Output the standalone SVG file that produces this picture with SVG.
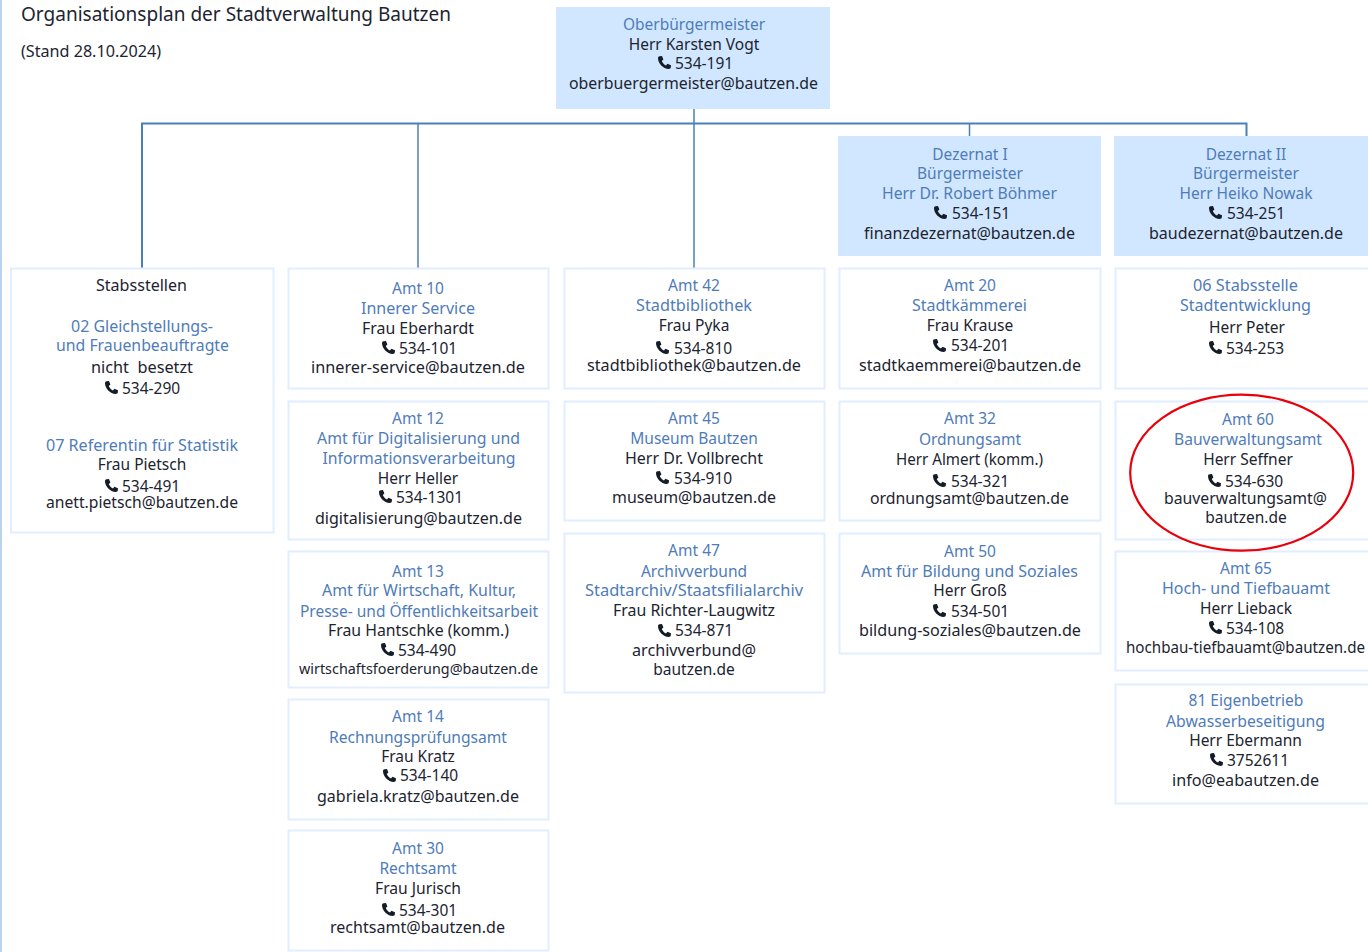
<svg xmlns="http://www.w3.org/2000/svg" width="1368" height="952" viewBox="0 0 1368 952">
<style>
text{font-family:"Noto Sans","Open Sans",sans-serif;font-size:15.5px;fill:#1c2430;text-anchor:middle}
.b{fill:#4f7cb8}
.n{fill:#fff;stroke:#e1eeff;stroke-width:2;transform:translate(.5px,.5px)}
.h{fill:#d1e7ff}
.c{fill:none;stroke:#4a80b8;stroke-width:2}
.t{fill:none;stroke:#4a80b8;stroke-width:1.5}
.p{text-anchor:start}
</style>
<defs>
<path id="ph" d="M2.6 0.2 L5 0 L6.4 3.6 L4.8 5 C5.4 6.8 7 8.6 9 9.4 L10.4 7.8 L14 9.2 L13.8 11.6 C13.6 12.6 12.8 13 11.8 13 C6 12.6 1 7.6 1 2 C1 1 1.6 0.4 2.6 0.2Z" fill="#141c28"/>
</defs>
<rect x="0" y="0" width="2" height="952" fill="#b7d3ee"/>
<g id="connectors">
<path class="c" d="M142 268V123.5H1246.5V136"/>
<path class="t" d="M418 123.5V268M694 109V268M969.5 123.5V136"/>
</g>
<g id="title"><text x="21" y="21" style="text-anchor:start;font-size:19px" textLength="430" lengthAdjust="spacingAndGlyphs">Organisationsplan der Stadtverwaltung Bautzen</text>
<text x="21" y="57" style="text-anchor:start;font-size:16px" textLength="140" lengthAdjust="spacingAndGlyphs">(Stand 28.10.2024)</text></g>
<g id="ob"><rect class="h" x="556" y="7" width="274" height="102"/>
<text class="b" x="694" y="30">Oberbürgermeister</text><text x="694" y="50">Herr Karsten Vogt</text><use href="#ph" x="657" y="56"/><text class="p" x="675" y="69">534-191</text><text x="693.5" y="89" textLength="249" lengthAdjust="spacingAndGlyphs">oberbuergermeister@bautzen.de</text></g>
<g id="dez1"><rect class="h" x="838" y="136" width="263" height="120"/>
<text class="b" x="970" y="160">Dezernat I</text><text class="b" x="970" y="179">Bürgermeister</text><text class="b" x="969.5" y="199" textLength="175" lengthAdjust="spacingAndGlyphs">Herr Dr. Robert Böhmer</text><use href="#ph" x="933" y="206"/><text class="p" x="952" y="219">534-151</text><text x="969.5" y="239" textLength="211" lengthAdjust="spacingAndGlyphs">finanzdezernat@bautzen.de</text></g>
<g id="dez2"><rect class="h" x="1114" y="136" width="254" height="120"/>
<text class="b" x="1246" y="160">Dezernat II</text><text class="b" x="1246" y="179">Bürgermeister</text><text class="b" x="1246" y="199">Herr Heiko Nowak</text><use href="#ph" x="1208" y="206"/><text class="p" x="1227" y="219">534-251</text><text x="1246" y="239" textLength="194" lengthAdjust="spacingAndGlyphs">baudezernat@bautzen.de</text></g>
<g id="stab"><rect class="n" x="10.5" y="268" width="262.5" height="264"/>
<text x="141.5" y="291" textLength="91" lengthAdjust="spacingAndGlyphs">Stabsstellen</text><text class="b" x="142" y="332" textLength="142" lengthAdjust="spacingAndGlyphs">02 Gleichstellungs-</text><text class="b" x="142.5" y="351" textLength="173" lengthAdjust="spacingAndGlyphs">und Frauenbeauftragte</text><text x="142" y="373" xml:space="preserve" textLength="102" lengthAdjust="spacingAndGlyphs">nicht  besetzt</text><use href="#ph" x="104" y="381"/><text class="p" x="122" y="394">534-290</text><text class="b" x="142" y="451" textLength="192" lengthAdjust="spacingAndGlyphs">07 Referentin für Statistik</text><text x="142" y="470">Frau Pietsch</text><use href="#ph" x="104" y="479"/><text class="p" x="122" y="492">534-491</text><text x="142" y="508" textLength="192" lengthAdjust="spacingAndGlyphs">anett.pietsch@bautzen.de</text></g>
<g id="a10"><rect class="n" x="288" y="268" width="260" height="120"/>
<text class="b" x="418" y="294">Amt 10</text><text class="b" x="418" y="314" textLength="114" lengthAdjust="spacingAndGlyphs">Innerer Service</text><text x="418" y="334" textLength="112" lengthAdjust="spacingAndGlyphs">Frau Eberhardt</text><use href="#ph" x="381" y="341"/><text class="p" x="399" y="354">534-101</text><text x="418" y="373" textLength="214" lengthAdjust="spacingAndGlyphs">innerer-service@bautzen.de</text></g>
<g id="a12"><rect class="n" x="288" y="401" width="260" height="138"/>
<text class="b" x="418" y="424">Amt 12</text><text class="b" x="418.5" y="444" textLength="203" lengthAdjust="spacingAndGlyphs">Amt für Digitalisierung und</text><text class="b" x="419" y="464" textLength="193" lengthAdjust="spacingAndGlyphs">Informationsverarbeitung</text><text x="418" y="484">Herr Heller</text><use href="#ph" x="378" y="490"/><text class="p" x="396" y="503">534-1301</text><text x="418.5" y="524" textLength="207" lengthAdjust="spacingAndGlyphs">digitalisierung@bautzen.de</text></g>
<g id="a13"><rect class="n" x="288" y="551" width="260" height="136"/>
<text class="b" x="418" y="577">Amt 13</text><text class="b" x="419" y="596" textLength="194" lengthAdjust="spacingAndGlyphs">Amt für Wirtschaft, Kultur,</text><text class="b" x="419" y="617" textLength="238" lengthAdjust="spacingAndGlyphs">Presse- und Öffentlichkeitsarbeit</text><text x="418.5" y="636" textLength="181" lengthAdjust="spacingAndGlyphs">Frau Hantschke (komm.)</text><use href="#ph" x="380" y="643"/><text class="p" x="398" y="656">534-490</text><text x="418.5" y="674" style="font-size:14px" textLength="239" lengthAdjust="spacingAndGlyphs">wirtschaftsfoerderung@bautzen.de</text></g>
<g id="a14"><rect class="n" x="288" y="699" width="260" height="120"/>
<text class="b" x="418" y="722">Amt 14</text><text class="b" x="418" y="743" textLength="178" lengthAdjust="spacingAndGlyphs">Rechnungsprüfungsamt</text><text x="418" y="762">Frau Kratz</text><use href="#ph" x="382" y="769"/><text class="p" x="400" y="781">534-140</text><text x="418" y="802" textLength="202" lengthAdjust="spacingAndGlyphs">gabriela.kratz@bautzen.de</text></g>
<g id="a30"><rect class="n" x="288" y="830" width="260" height="120"/>
<text class="b" x="418" y="854">Amt 30</text><text class="b" x="418" y="874">Rechtsamt</text><text x="418" y="894" textLength="86" lengthAdjust="spacingAndGlyphs">Frau Jurisch</text><use href="#ph" x="381" y="903"/><text class="p" x="399" y="916">534-301</text><text x="417.5" y="933" textLength="175" lengthAdjust="spacingAndGlyphs">rechtsamt@bautzen.de</text></g>
<g id="a42"><rect class="n" x="564" y="268" width="260" height="120"/>
<text class="b" x="694" y="291">Amt 42</text><text class="b" x="694" y="311" textLength="116" lengthAdjust="spacingAndGlyphs">Stadtbibliothek</text><text x="694" y="331">Frau Pyka</text><use href="#ph" x="655" y="341"/><text class="p" x="674" y="354">534-810</text><text x="694" y="371" textLength="214" lengthAdjust="spacingAndGlyphs">stadtbibliothek@bautzen.de</text></g>
<g id="a45"><rect class="n" x="564" y="401" width="260" height="119"/>
<text class="b" x="694" y="424">Amt 45</text><text class="b" x="694" y="444">Museum Bautzen</text><text x="694" y="464" textLength="138" lengthAdjust="spacingAndGlyphs">Herr Dr. Vollbrecht</text><use href="#ph" x="655" y="471"/><text class="p" x="674" y="484">534-910</text><text x="694" y="503" textLength="164" lengthAdjust="spacingAndGlyphs">museum@bautzen.de</text></g>
<g id="a47"><rect class="n" x="564" y="533" width="260" height="159"/>
<text class="b" x="694" y="556">Amt 47</text><text class="b" x="694" y="577">Archivverbund</text><text class="b" x="694" y="596" textLength="218" lengthAdjust="spacingAndGlyphs">Stadtarchiv/Staatsfilialarchiv</text><text x="694" y="616" textLength="162" lengthAdjust="spacingAndGlyphs">Frau Richter-Laugwitz</text><use href="#ph" x="657" y="624"/><text class="p" x="675" y="636">534-871</text><text x="694" y="656" textLength="124" lengthAdjust="spacingAndGlyphs">archivverbund@</text><text x="694" y="675">bautzen.de</text></g>
<g id="a20"><rect class="n" x="839" y="268" width="261" height="120"/>
<text class="b" x="970" y="291">Amt 20</text><text class="b" x="969.5" y="311" textLength="115" lengthAdjust="spacingAndGlyphs">Stadtkämmerei</text><text x="970" y="331">Frau Krause</text><use href="#ph" x="932" y="339"/><text class="p" x="951" y="351">534-201</text><text x="970" y="371" textLength="222" lengthAdjust="spacingAndGlyphs">stadtkaemmerei@bautzen.de</text></g>
<g id="a32"><rect class="n" x="839" y="401" width="261" height="119"/>
<text class="b" x="970" y="424">Amt 32</text><text class="b" x="970" y="445">Ordnungsamt</text><text x="969.5" y="465" textLength="147" lengthAdjust="spacingAndGlyphs">Herr Almert (komm.)</text><use href="#ph" x="932" y="474"/><text class="p" x="951" y="487">534-321</text><text x="969.5" y="504" textLength="199" lengthAdjust="spacingAndGlyphs">ordnungsamt@bautzen.de</text></g>
<g id="a50"><rect class="n" x="839" y="533" width="261" height="120"/>
<text class="b" x="970" y="557">Amt 50</text><text class="b" x="969.5" y="577" textLength="217" lengthAdjust="spacingAndGlyphs">Amt für Bildung und Soziales</text><text x="970" y="596">Herr Groß</text><use href="#ph" x="932" y="604"/><text class="p" x="951" y="617">534-501</text><text x="970" y="636" textLength="222" lengthAdjust="spacingAndGlyphs">bildung-soziales@bautzen.de</text></g>
<g id="s06"><rect class="n" x="1115" y="268" width="255" height="120"/>
<text class="b" x="1245.5" y="291" textLength="105" lengthAdjust="spacingAndGlyphs">06 Stabsstelle</text><text class="b" x="1245.5" y="311" textLength="131" lengthAdjust="spacingAndGlyphs">Stadtentwicklung</text><text x="1247" y="333">Herr Peter</text><use href="#ph" x="1208" y="341"/><text class="p" x="1226" y="354">534-253</text></g>
<g id="a60"><rect class="n" x="1115" y="401" width="255" height="138"/>
<text class="b" x="1248" y="425">Amt 60</text><text class="b" x="1248" y="445" textLength="148" lengthAdjust="spacingAndGlyphs">Bauverwaltungsamt</text><text x="1248" y="465">Herr Seffner</text><use href="#ph" x="1207" y="474"/><text class="p" x="1225" y="487">534-630</text><text x="1245.5" y="504" textLength="163" lengthAdjust="spacingAndGlyphs">bauverwaltungsamt@</text><text x="1246" y="523">bautzen.de</text></g>
<g id="a65"><rect class="n" x="1115" y="551" width="255" height="119"/>
<text class="b" x="1246" y="574">Amt 65</text><text class="b" x="1246" y="594" textLength="168" lengthAdjust="spacingAndGlyphs">Hoch- und Tiefbauamt</text><text x="1246" y="614">Herr Lieback</text><use href="#ph" x="1208" y="621"/><text class="p" x="1226" y="634">534-108</text><text x="1245.5" y="653" textLength="239" lengthAdjust="spacingAndGlyphs">hochbau-tiefbauamt@bautzen.de</text></g>
<g id="a81"><rect class="n" x="1115" y="684" width="255" height="119"/>
<text class="b" x="1246" y="706">81 Eigenbetrieb</text><text class="b" x="1245.5" y="727" textLength="159" lengthAdjust="spacingAndGlyphs">Abwasserbeseitigung</text><text x="1245.5" y="746">Herr Ebermann</text><use href="#ph" x="1209" y="753"/><text class="p" x="1227" y="766">3752611</text><text x="1245.5" y="786" textLength="147" lengthAdjust="spacingAndGlyphs">info@eabautzen.de</text></g>
<ellipse id="highlight" cx="1241.7" cy="472.7" rx="111.5" ry="78" fill="none" stroke="#e8000b" stroke-width="2.2"/>
</svg>
